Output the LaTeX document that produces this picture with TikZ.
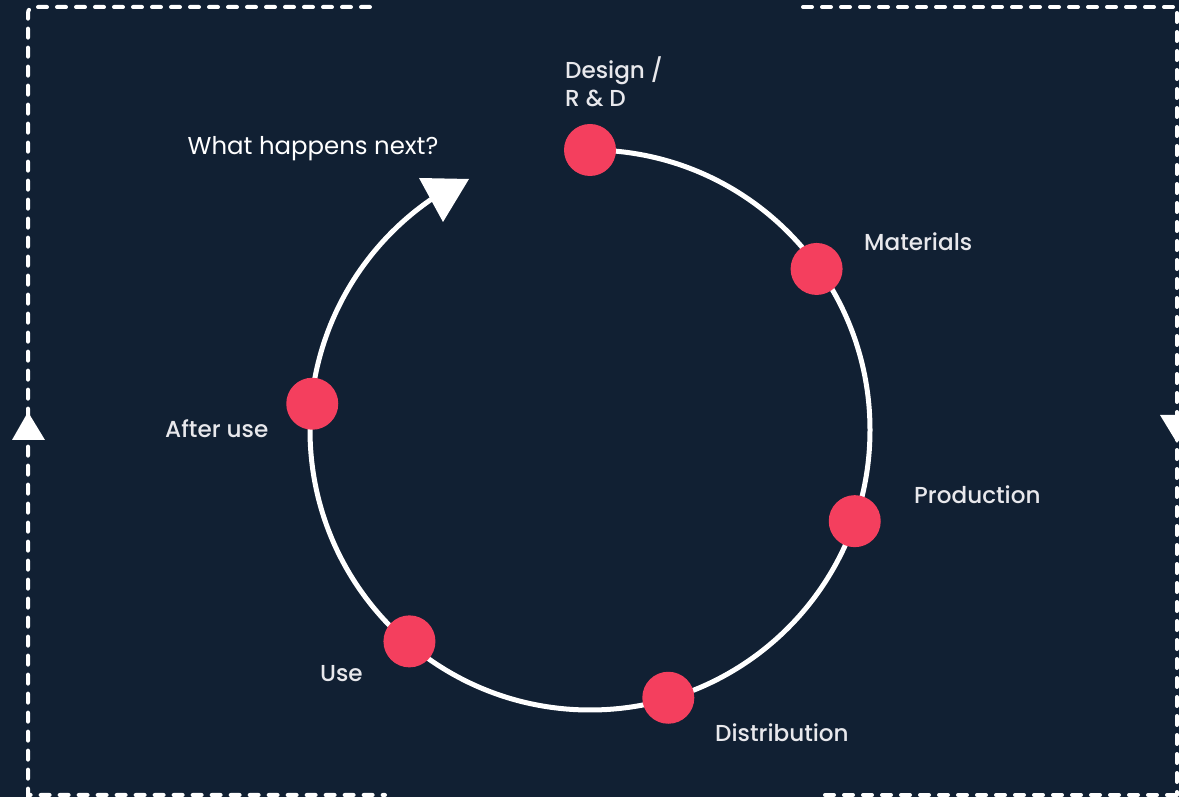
\documentclass[tikz,border=0pt]{standalone}
\usepackage{fontspec}
\setmainfont{Poppins}
\newfontfamily\medfont{Poppins Medium}
\usetikzlibrary{calc}
\definecolor{bgnavy}{HTML}{112033}
\definecolor{dotred}{HTML}{F43F5E}
\definecolor{labelgray}{HTML}{E8E8EC}
\tikzset{
  frameline/.style={draw=white, line width=4bp, line cap=round, dash pattern=on 9bp off 10bp},
  ring/.style={draw=white, line width=5bp},
  stagedot/.style={circle, fill=dotred, minimum size=52bp, inner sep=0pt},
  lbl/.style={text=labelgray, inner sep=0pt, font=\medfont\fontsize{23.2}{28}\selectfont, align=left},
  tip/.style={fill=white, draw=none},
}
\begin{document}
\begin{tikzpicture}[x=1bp,y=1bp]
\fill[bgnavy] (0,0) rectangle (1179,797);
\useasboundingbox (0,0) rectangle (1179,797);
% dashed frame
\draw[frameline] (370,790) -- (34,790) arc[start angle=90, end angle=180, radius=6] -- (28,2) -- (385,2);
\draw[frameline] (803,790) -- (1177,790) -- (1177,2);
\draw[frameline] (825,2) -- (1177,2);
% frame arrows
\coordinate (la) at (28,385);
\coordinate (ra) at (1177,380);
\fill[tip] (la) ++(-16,-28) -- ++(33,0) -- (28,385) -- cycle;
\fill[tip] (ra) ++(-17,2) -- ++(34,0) -- ++(-17,-28) -- cycle;
% ring
\coordinate (c) at (590,367);
\draw[ring] (c) ++(90:280) arc[start angle=90, end angle=-236, radius=280];
\fill[tip] (419,619) -- (469,618) -- (443,575) -- cycle;
% stage dots
\node[stagedot] (design) at ($(c)+(90:280)$) {};
\node[stagedot] (materials) at ($(c)+(35.4:278)$) {};
\node[stagedot] (production) at ($(c)+(-19:280)$) {};
\node[stagedot] (distribution) at ($(c)+(-73.7:279)$) {};
\node[stagedot] (use) at ($(c)+(-130.5:278)$) {};
\node[stagedot] (afteruse) at ($(c)+(174.6:279)$) {};
% labels
\node[lbl, anchor=west] (tdesign) at (565,715) {Design /\\R \& D};
\node[lbl, anchor=west] (tmaterials) at (864,555) {Materials};
\node[lbl, anchor=west] (tproduction) at (914,302) {Production};
\node[lbl, anchor=west] (tdistribution) at (715,64) {Distribution};
\node[lbl, anchor=west] (tuse) at (320,123) {Use};
\node[lbl, anchor=west] (tafter) at (165,368) {After use};
\node[text=white, inner sep=0pt, font=\fontsize{24.5}{28}\selectfont, anchor=center] (tnext) at (313,648) {What happens next?};
\end{tikzpicture}
\end{document}
